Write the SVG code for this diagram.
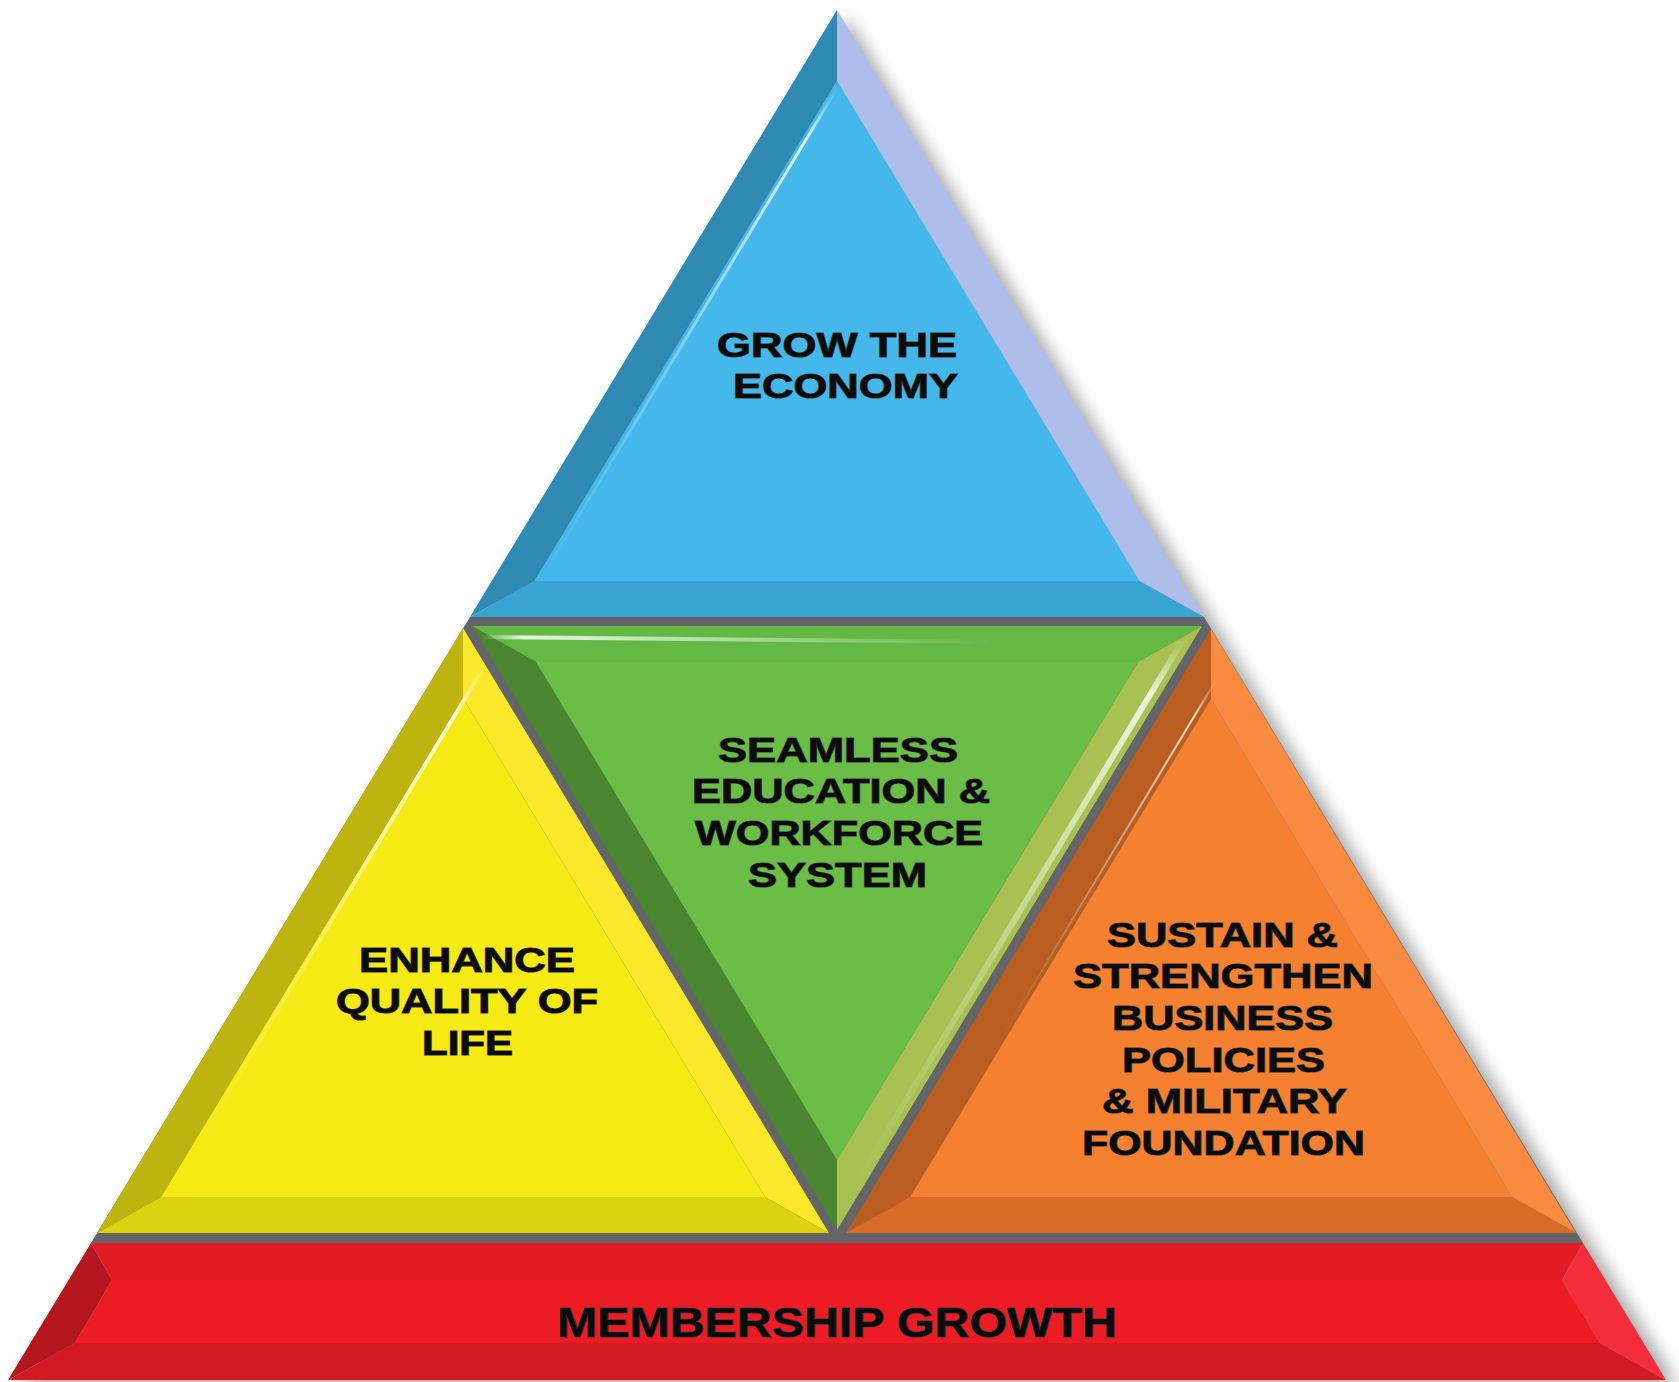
<svg xmlns="http://www.w3.org/2000/svg" width="1679" height="1382" viewBox="0 0 1679 1382">
  <defs>
    <filter id="shadow" x="-10%" y="-10%" width="130%" height="130%">
      <feGaussianBlur stdDeviation="9"/>
    </filter>
    <linearGradient id="hlH" x1="0" y1="0" x2="1" y2="0">
      <stop offset="0" stop-color="#ffffff" stop-opacity="0"/>
      <stop offset="0.08" stop-color="#ffffff" stop-opacity="0.85"/>
      <stop offset="0.6" stop-color="#ffffff" stop-opacity="0.35"/>
      <stop offset="1" stop-color="#ffffff" stop-opacity="0"/>
    </linearGradient>
    <linearGradient id="hlD" x1="0" y1="0" x2="0" y2="1">
      <stop offset="0" stop-color="#ffffff" stop-opacity="0"/>
      <stop offset="0.1" stop-color="#ffffff" stop-opacity="0.8"/>
      <stop offset="0.55" stop-color="#ffffff" stop-opacity="0.3"/>
      <stop offset="1" stop-color="#ffffff" stop-opacity="0"/>
    </linearGradient>
    <style>
      .lbl { font-family: "Liberation Sans", Arial, sans-serif; font-weight: bold; font-size: 35px; fill: #0b0b0b; stroke: #3a3a3a; stroke-width: 1.2; paint-order: stroke; }
      .big { font-size: 42px; }
    </style>
  </defs>
  <rect width="1679" height="1382" fill="#ffffff"/>

  <!-- drop shadow -->
  <polygon points="847,18 1678,1386 18,1386" fill="#000" opacity="0.35" filter="url(#shadow)"/>

  <!-- separators (gray gaps) -->
  <g id="separators">
    <polygon points="470,617 1204,617 1583,1243 91,1243" fill="#646569"/>
  </g>

  <g id="node-grow">
    <polygon points="837,10 470,617 534.5,581 837,81" fill="#2E8AB2"/>
    <polygon points="837,10 1204,617 1139.5,581 837,81" fill="#AFBDEA"/>
    <polygon points="470,617 1204,617 1139.5,581 534.5,581" fill="#39A3D1"/>
    <polygon points="837,81 534.5,581 1139.5,581" fill="#44B8EA"/>
    <line x1="836" y1="90" x2="545" y2="572" stroke="url(#hlD)" stroke-width="3"/>
    <line x1="560" y1="605" x2="1180" y2="605" stroke="url(#hlH)" stroke-width="2" opacity="0.5"/>
    <text class="lbl" x="717" y="357" textLength="240" lengthAdjust="spacingAndGlyphs">GROW THE</text>
    <text class="lbl" x="733" y="398" textLength="225" lengthAdjust="spacingAndGlyphs">ECONOMY</text>
  </g>

  <g id="node-quality">
    <polygon points="463,628 97,1233 161,1197 463,698" fill="#BDB40F"/>
    <polygon points="463,628 829,1233 765,1197 463,698" fill="#FBE82B"/>
    <polygon points="97,1233 829,1233 765,1197 161,1197" fill="#DCD210"/>
    <polygon points="463,698 161,1197 765,1197" fill="#F5EA14"/>
    <line x1="483" y1="668" x2="200" y2="1140" stroke="url(#hlD)" stroke-width="4"/>
    <line x1="120" y1="1225" x2="810" y2="1225" stroke="url(#hlH)" stroke-width="3"/>
    <text class="lbl" x="359" y="972" textLength="216" lengthAdjust="spacingAndGlyphs">ENHANCE</text>
    <text class="lbl" x="336" y="1013" textLength="262" lengthAdjust="spacingAndGlyphs">QUALITY OF</text>
    <text class="lbl" x="422" y="1055" textLength="91" lengthAdjust="spacingAndGlyphs">LIFE</text>
  </g>

  <g id="node-education">
    <polygon points="472,626 1202,626 1138,662 536,662" fill="#64B844"/>
    <polygon points="472,626 837,1230 837,1160 536,662" fill="#4A8530"/>
    <polygon points="1202,626 837,1230 837,1160 1138,662" fill="#A8C152"/>
    <polygon points="536,662 1138,662 837,1160" fill="#6ABD45"/>
    <line x1="482" y1="637" x2="1000" y2="642" stroke="url(#hlH)" stroke-width="4"/>
    <line x1="1183" y1="640" x2="855" y2="1185" stroke="url(#hlD)" stroke-width="6"/>
    <text class="lbl" x="718" y="762" textLength="240" lengthAdjust="spacingAndGlyphs">SEAMLESS</text>
    <text class="lbl" x="692" y="803" textLength="298" lengthAdjust="spacingAndGlyphs">EDUCATION &amp;</text>
    <text class="lbl" x="695" y="845" textLength="288" lengthAdjust="spacingAndGlyphs">WORKFORCE</text>
    <text class="lbl" x="748" y="887" textLength="179" lengthAdjust="spacingAndGlyphs">SYSTEM</text>
  </g>

  <g id="node-sustain">
    <polygon points="1211,629 846,1233 910,1197 1211,699" fill="#B95E20"/>
    <polygon points="1211,629 1576,1233 1512,1197 1211,699" fill="#F98B40"/>
    <polygon points="846,1233 1576,1233 1512,1197 910,1197" fill="#D86C27"/>
    <polygon points="1211,699 910,1197 1512,1197" fill="#F58130"/>
    <line x1="1216" y1="680" x2="1000" y2="1040" stroke="url(#hlD)" stroke-width="2"/>
    <line x1="870" y1="1230" x2="1565" y2="1230" stroke="url(#hlH)" stroke-width="3"/>
    <text class="lbl" x="1107" y="947" textLength="231" lengthAdjust="spacingAndGlyphs">SUSTAIN &amp;</text>
    <text class="lbl" x="1073" y="988" textLength="300" lengthAdjust="spacingAndGlyphs">STRENGTHEN</text>
    <text class="lbl" x="1112" y="1030" textLength="221" lengthAdjust="spacingAndGlyphs">BUSINESS</text>
    <text class="lbl" x="1122" y="1072" textLength="203" lengthAdjust="spacingAndGlyphs">POLICIES</text>
    <text class="lbl" x="1102" y="1113" textLength="245" lengthAdjust="spacingAndGlyphs">&amp; MILITARY</text>
    <text class="lbl" x="1082" y="1155" textLength="283" lengthAdjust="spacingAndGlyphs">FOUNDATION</text>
  </g>

  <g id="node-membership">
    <polygon points="91,1243 1583,1243 1562,1280 112,1280" fill="#E21B24"/>
    <polygon points="75,1343 1600,1343 1666,1380 8,1380" fill="#D11A21"/>
    <polygon points="91,1243 112,1280 75,1343 8,1380" fill="#B3161D"/>
    <polygon points="1583,1243 1562,1280 1600,1343 1666,1380" fill="#F32D3A"/>
    <polygon points="112,1280 1562,1280 1600,1343 75,1343" fill="#ED1C24"/>
    <line x1="140" y1="1252" x2="1450" y2="1252" stroke="url(#hlH)" stroke-width="3" opacity="0.8"/>
    <text class="lbl big" x="557" y="1337" textLength="560" lengthAdjust="spacingAndGlyphs">MEMBERSHIP GROWTH</text>
  </g>
</svg>
